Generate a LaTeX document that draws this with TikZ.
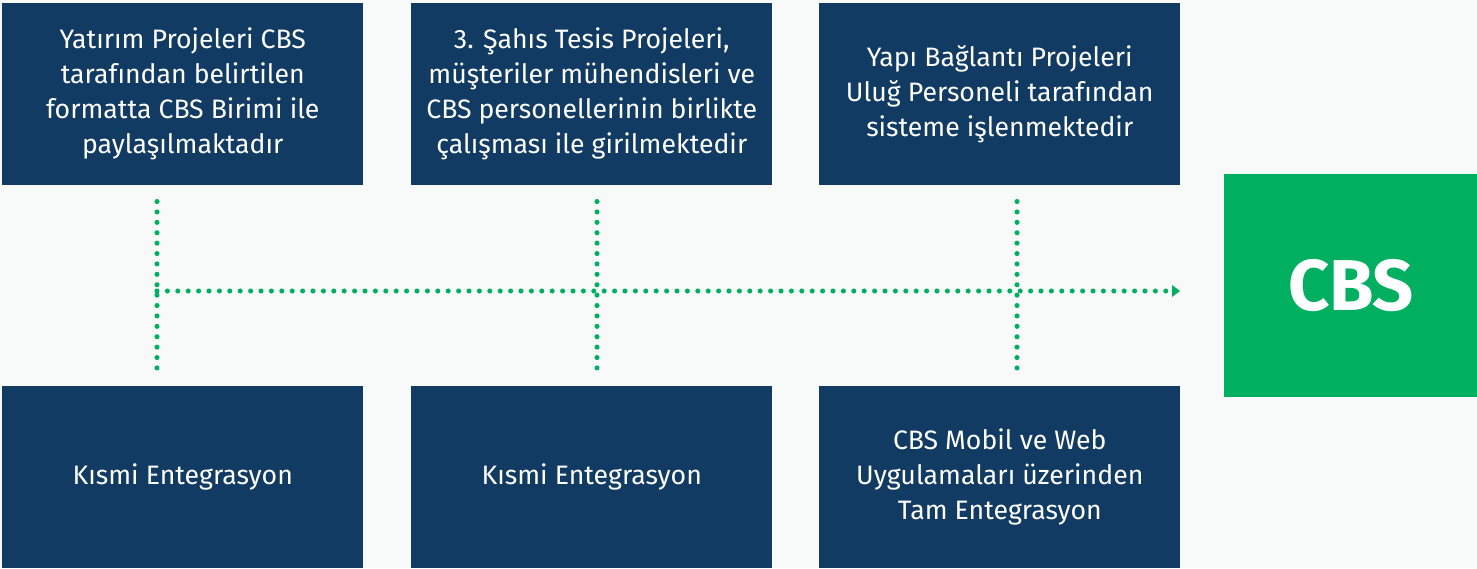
\documentclass[tikz,border=0pt]{standalone}
\usepackage{fontspec}
\setmainfont{Fira Sans}
\usetikzlibrary{arrows.meta}
\definecolor{navy}{HTML}{123B63}
\definecolor{cbsgreen}{HTML}{00B060}
\definecolor{bg}{HTML}{F8F9F9}
\begin{document}
\begin{tikzpicture}[x=0.75pt,y=-0.75pt,
  box/.style={fill=navy,text=white,minimum width=270.75pt,minimum height=136.5pt,inner sep=0pt,align=center,font=\fontsize{20}{26.25}\selectfont,anchor=north west},
  dotline/.style={draw=cbsgreen,line width=3.8pt,line cap=round,dash pattern=on 0pt off 7.8pt}
]
\fill[bg] (0,0) rectangle (1477,568);
\useasboundingbox (0,0) rectangle (1477,568);
% top row
\node[box] (t1) at (2,3) {Yatırım Projeleri CBS\\tarafından belirtilen\\formatta CBS Birimi ile\\paylaşılmaktadır};
\node[box] (t2) at (411,3) {3. Şahıs Tesis Projeleri,\\müşteriler mühendisleri ve\\CBS personellerinin birlikte\\çalışması ile girilmektedir};
\node[box] (t3) at (819,3) {Yapı Bağlantı Projeleri\\Uluğ Personeli tarafından\\sisteme işlenmektedir};
% bottom row
\node[box] (b1) at (2,386) {Kısmi Entegrasyon};
\node[box] (b2) at (411,386) {Kısmi Entegrasyon};
\node[box] (b3) at (819,386) {CBS Mobil ve Web\\Uygulamaları üzerinden\\Tam Entegrasyon};
% CBS
\node[fill=cbsgreen,text=white,minimum width=189.75pt,minimum height=167.25pt,inner sep=0pt,anchor=north west,font=\fontsize{54}{54}\bfseries\selectfont] (cbs) at (1224,174) {CBS};
% connectors
\draw[dotline] ([yshift=-12pt]t1.south -| 157,0) -- ([yshift=11pt]b1.north -| 157,0);
\draw[dotline] ([yshift=-12pt]t2.south -| 597,0) -- ([yshift=11pt]b2.north -| 597,0);
\draw[dotline] ([yshift=-12pt]t3.south -| 1017,0) -- ([yshift=11pt]b3.north -| 1017,0);
\coordinate (hstart) at (157,291);
\draw[dotline] (hstart) -- (1172,291);
\draw[draw=none,fill=cbsgreen] (1172,285) -- (1180,291) -- (1172,297) -- cycle;
\end{tikzpicture}
\end{document}
